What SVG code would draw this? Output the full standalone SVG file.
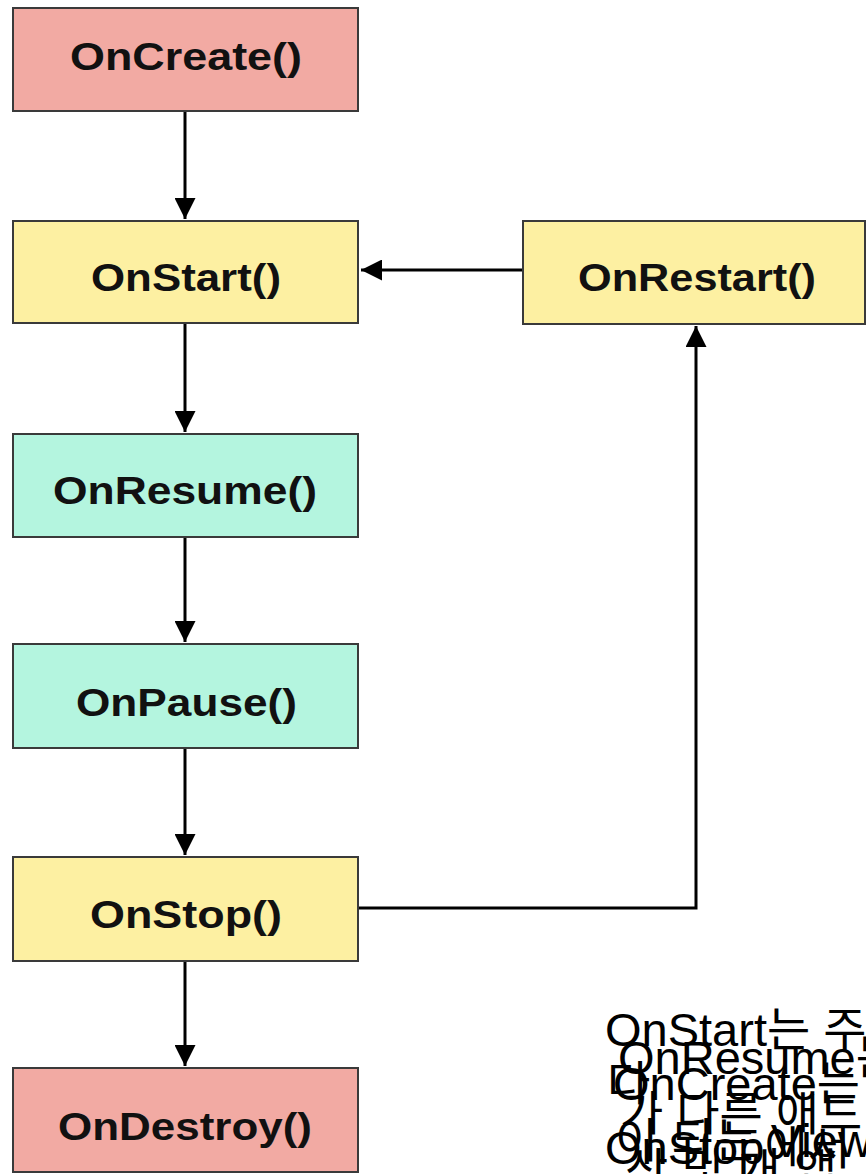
<svg xmlns="http://www.w3.org/2000/svg" width="866" height="1174" viewBox="0 0 866 1174">
<style>
.box{stroke:#3a3a3a;stroke-width:2}
.pink{fill:#f2aaa3}
.yellow{fill:#fdf0a2}
.mint{fill:#b4f5df}
.lbl{font-family:"Liberation Sans",Arial,sans-serif;font-weight:bold;font-size:39px;fill:#111}
.edge{stroke:#000;stroke-width:3;fill:none}
.note{font-family:"Liberation Sans","Noto Sans CJK KR",sans-serif;font-size:47px;fill:#000}
</style>
<defs>
<marker id="arr" viewBox="0 0 10 10" refX="10" refY="5" markerWidth="7" markerHeight="7" orient="auto" markerUnits="strokeWidth">
<path d="M0,0 L10,5 L0,10 Z" fill="#000"/>
</marker>
</defs>
<rect width="866" height="1174" fill="#fff"/>
<g id="connectors">
<line class="edge" x1="185" y1="112" x2="185" y2="219" marker-end="url(#arr)"/>
<line class="edge" x1="185" y1="324" x2="185" y2="432" marker-end="url(#arr)"/>
<line class="edge" x1="185" y1="538" x2="185" y2="642" marker-end="url(#arr)"/>
<line class="edge" x1="185" y1="749" x2="185" y2="855" marker-end="url(#arr)"/>
<line class="edge" x1="185" y1="962" x2="185" y2="1066" marker-end="url(#arr)"/>
<line class="edge" x1="523" y1="270" x2="361" y2="270" marker-end="url(#arr)"/>
<polyline class="edge" points="358,908 696,908 696,326" marker-end="url(#arr)"/>
</g>
<g id="onCreate">
<rect class="box pink" x="13" y="8" width="345" height="103"/>
<text class="lbl" x="70" y="70" textLength="232" lengthAdjust="spacingAndGlyphs">OnCreate()</text>
</g>
<g id="onStart">
<rect class="box yellow" x="13" y="221" width="345" height="102"/>
<text class="lbl" x="91" y="291" textLength="190" lengthAdjust="spacingAndGlyphs">OnStart()</text>
</g>
<g id="onRestart">
<rect class="box yellow" x="523" y="221" width="342" height="103"/>
<text class="lbl" x="578" y="291" textLength="238" lengthAdjust="spacingAndGlyphs">OnRestart()</text>
</g>
<g id="onResume">
<rect class="box mint" x="13" y="434" width="345" height="103"/>
<text class="lbl" x="53" y="504" textLength="264" lengthAdjust="spacingAndGlyphs">OnResume()</text>
</g>
<g id="onPause">
<rect class="box mint" x="13" y="644" width="345" height="104"/>
<text class="lbl" x="76" y="716" textLength="221" lengthAdjust="spacingAndGlyphs">OnPause()</text>
</g>
<g id="onStop">
<rect class="box yellow" x="13" y="857" width="345" height="104"/>
<text class="lbl" x="90" y="928" textLength="192" lengthAdjust="spacingAndGlyphs">OnStop()</text>
</g>
<g id="onDestroy">
<rect class="box pink" x="13" y="1068" width="345" height="104"/>
<text class="lbl" x="58" y="1140" textLength="254" lengthAdjust="spacingAndGlyphs">OnDestroy()</text>
</g>
<g id="notes">
<text class="note" x="605" y="1046">OnStart는 주로</text>
<text class="note" x="618" y="1074">OnResume는 다</text>
<text class="note" x="607" y="1100">다</text>
<text class="note" x="613" y="1100">OnCreate는</text>
<text class="note" x="620" y="1130">가 다른 애드</text>
<text class="note" x="615" y="1157">이 되는 View를</text>
<text class="note" x="605" y="1164">OnStop에서</text>
<text class="note" x="625" y="1187">상 및 개 앱</text>
</g>
</svg>
